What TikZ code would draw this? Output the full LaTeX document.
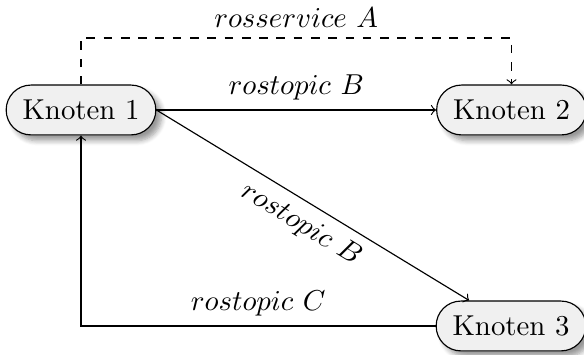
\documentclass[tikz,border=0pt]{standalone}
\usetikzlibrary{shadows.blur}
\begin{document}
\begin{tikzpicture}[x=0.3472pt,y=-0.3472pt,
  knoten/.style={draw, fill=black!6, rounded corners=8.6pt,
    minimum height=17.3pt, inner xsep=5.7pt,
    blur shadow={shadow xshift=2pt, shadow yshift=-2pt, shadow blur steps=6}},
  link/.style={->}]
  \useasboundingbox (0,0) rectangle (584,355);

  \node[knoten] (k1) at (81,110) {Knoten 1};
  \node[knoten] (k2) at (511.5,110) {Knoten 2};
  \node[knoten] (k3) at (511,326) {Knoten 3};

  % service call from node 1 to node 2
  \coordinate (sa) at (81,38);
  \coordinate (sb) at (511.5,38);
  \draw[link, dashed] (k1.north) -- (sa) -- node[above] {$rosservice\ A$} (sb) -- (k2.north);

  % topics
  \draw[link] (k1.east) -- node[above] {$rostopic\ B$} (k2.west);
  \draw[link] (k1.east) -- node[below, sloped] {$rostopic\ B$} (k3);
  \draw[link] (k3.west) -| node[pos=0.25, above] {$rostopic\ C$} (k1.south);
\end{tikzpicture}
\end{document}
